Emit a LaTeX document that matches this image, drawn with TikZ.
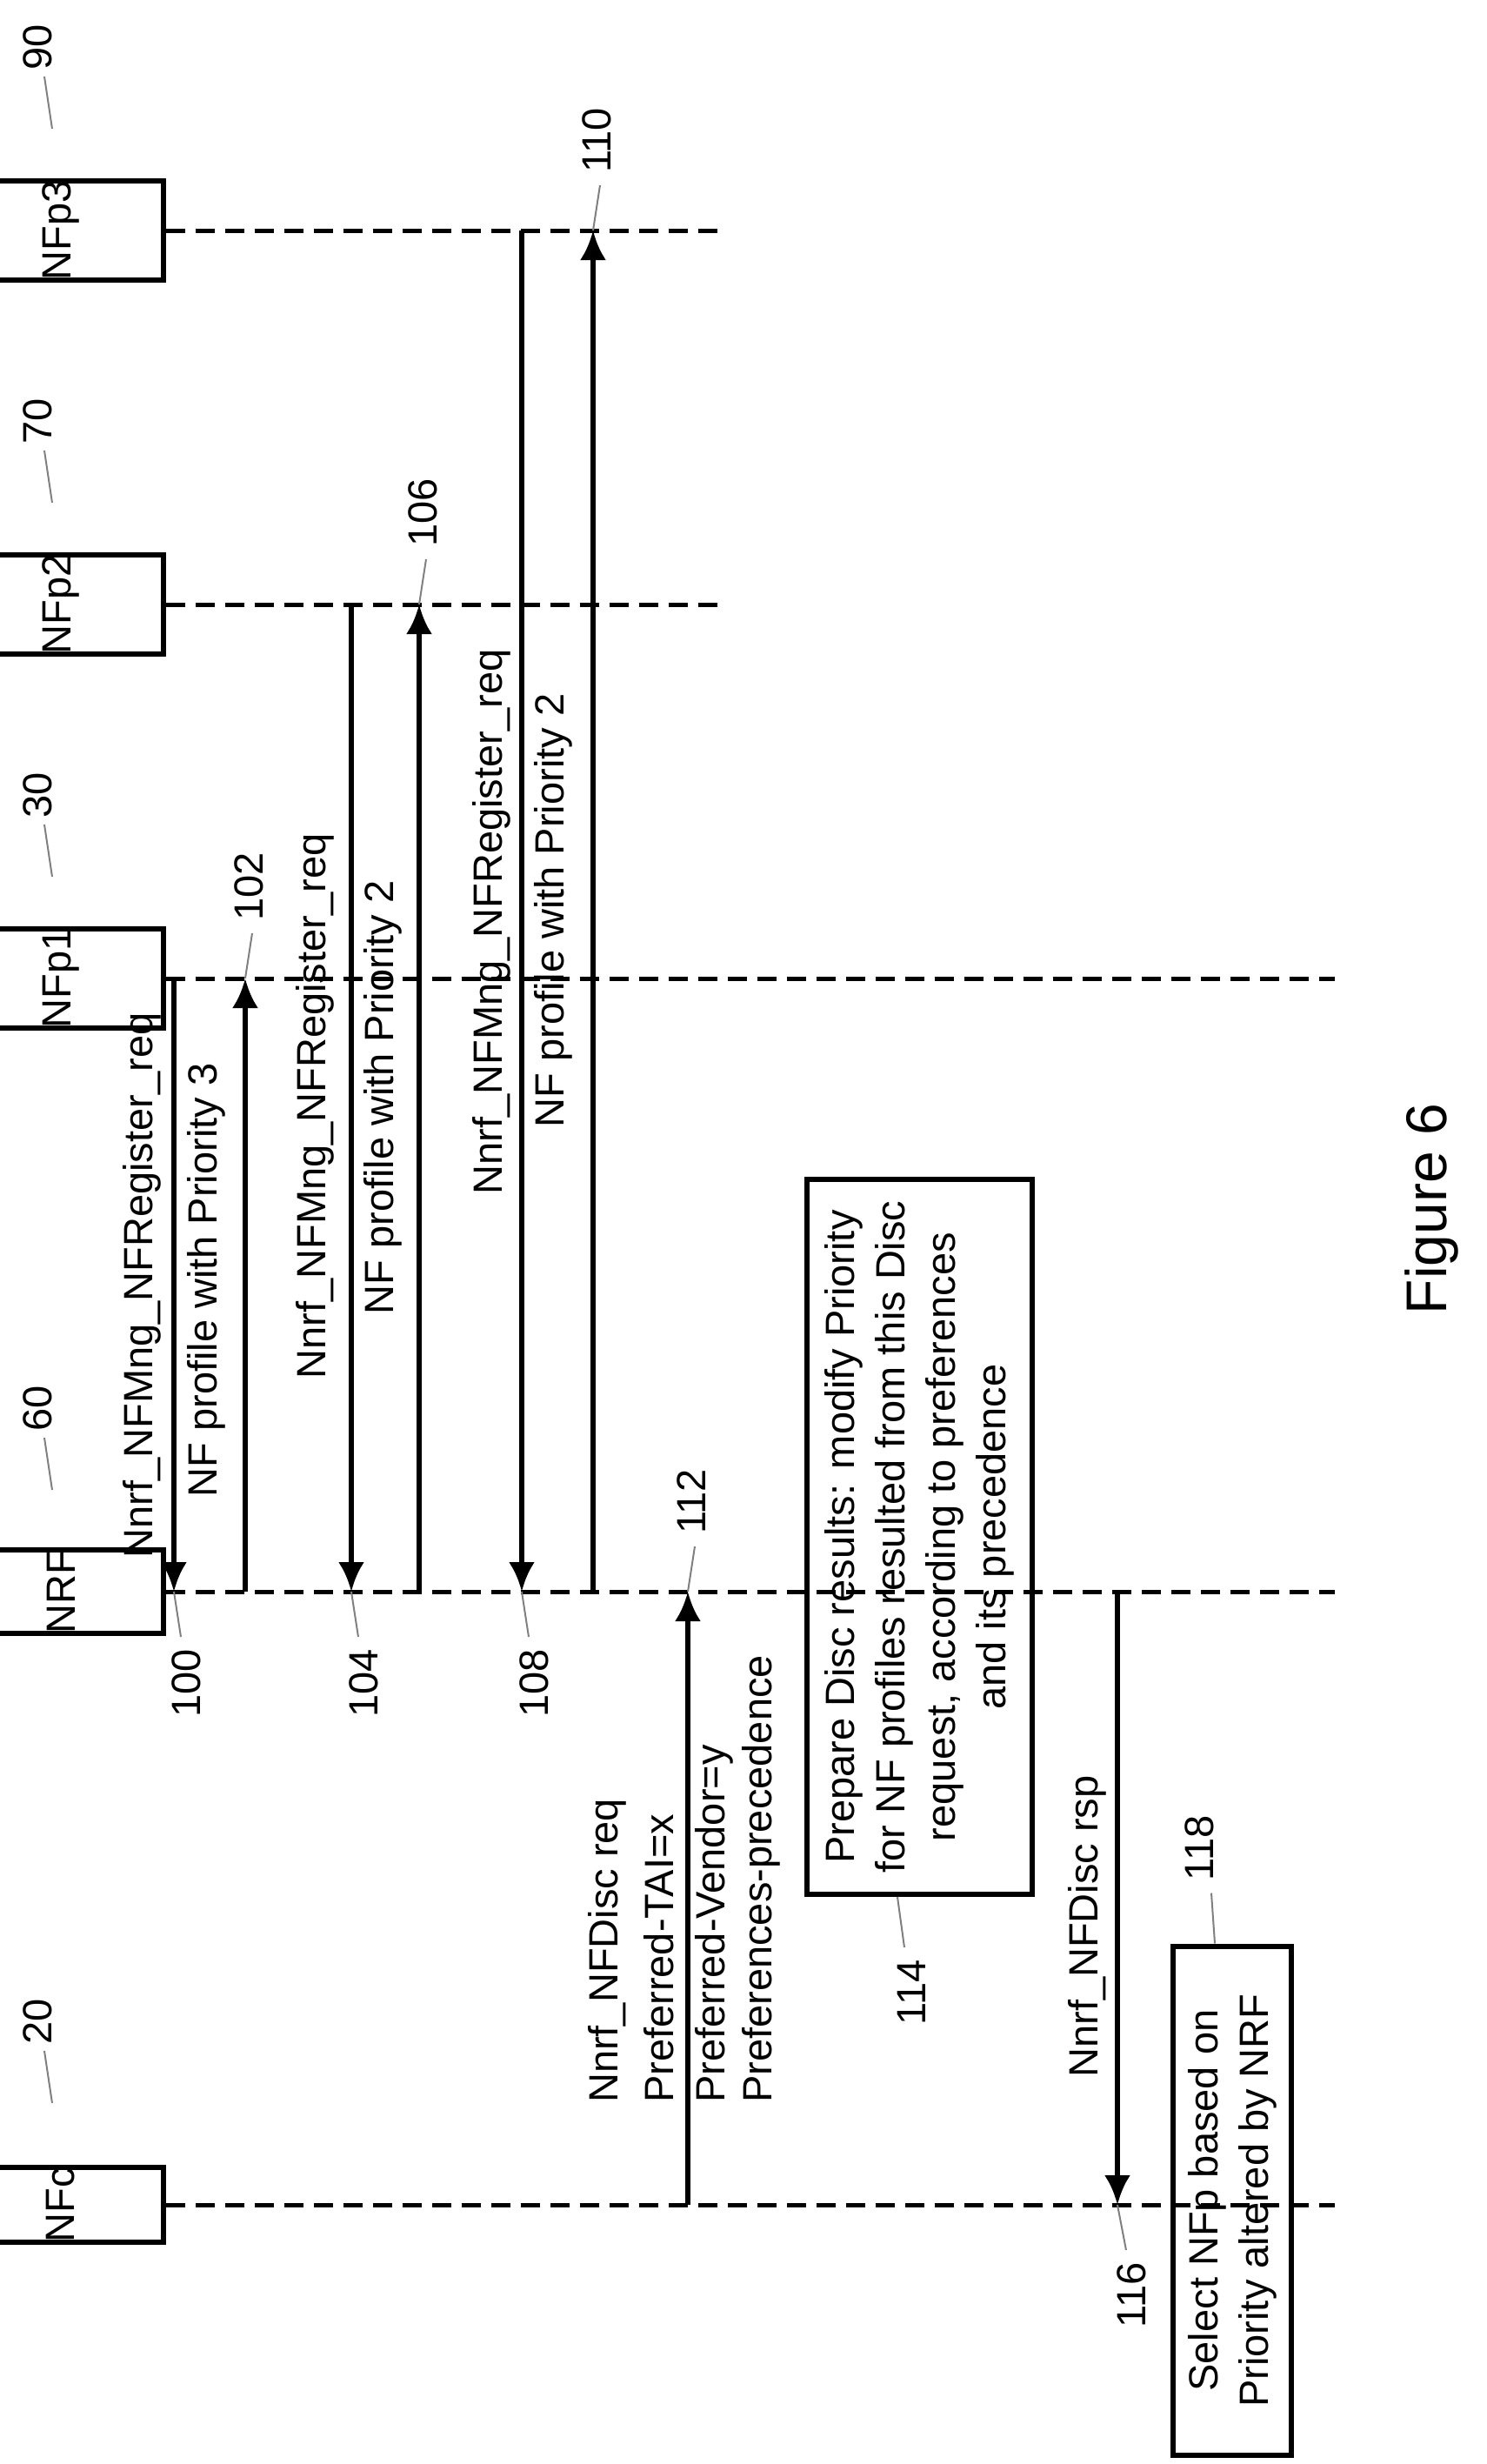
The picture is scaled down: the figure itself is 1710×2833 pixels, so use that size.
\documentclass[tikz,border=0pt]{standalone}
\usepackage{fontspec}
\setmainfont{Liberation Sans}
\usetikzlibrary{arrows.meta}
\begin{document}
\begin{tikzpicture}[x=1pt,y=-1pt,
  every node/.style={font=\fontsize{47}{58}\selectfont, inner sep=0pt},
  ent/.style={draw, line width=6pt, minimum width=86pt, minimum height=235pt, rotate=90},
  life/.style={line width=5pt, dash pattern=on 22pt off 12pt},
  msg/.style={line width=6pt, -{Latex[length=34pt,width=30pt]}},
  lead/.style={gray, line width=2pt},
  lbl/.style={rotate=90},
  pbox/.style={draw, line width=6pt, rotate=90, align=center, inner sep=0pt}]
\useasboundingbox (0,0) rectangle (1710,2833);
% entities
\node[ent] (nfp3) at (70,265) {NFp3};
\node[ent] (nfp2) at (70,695) {NFp2};
\node[ent] (nfp1) at (70,1125) {NFp1};
\node[ent] (nrf)  at (70,1830) {NRF};
\node[ent] (nfc)  at (70,2535) {NFc};
% lifelines
\coordinate (e3) at (828,265);
\coordinate (e2) at (828,695);
\coordinate (e1) at (1535,1125);
\coordinate (er) at (1535,1830);
\coordinate (ec) at (1535,2535);
\draw[life] (nfp3.south) -- (e3);
\draw[life] (nfp2.south) -- (e2);
\draw[life] (nfp1.south) -- (e1);
\draw[life] (nrf.south) -- (er);
\draw[life] (nfc.south) -- (ec);
% entity reference numerals
\foreach \n/\t/\y in {nfp3/90/265, nfp2/70/695, nfp1/30/1125, nrf/60/1830, nfc/20/2535}{
  \coordinate (\n l) at (51,\y-177);
  \draw[lead] (60,\y-117) -- (\n l);
  \node[lbl, anchor=west] (\n n) at (43,\y-184) {\t};
}
% messages
\coordinate (m100a) at (200,1125); \coordinate (m100b) at (200,1830);
\coordinate (m102a) at (282,1830); \coordinate (m102b) at (282,1125);
\coordinate (m104a) at (404,695);  \coordinate (m104b) at (404,1830);
\coordinate (m106a) at (482,1830); \coordinate (m106b) at (482,695);
\coordinate (m108a) at (600,265);  \coordinate (m108b) at (600,1830);
\coordinate (m110a) at (682,1830); \coordinate (m110b) at (682,265);
\coordinate (m112a) at (791,2535); \coordinate (m112b) at (791,1830);
\coordinate (m116a) at (1285,1830); \coordinate (m116b) at (1285,2535);
\draw[msg] (m100a) -- (m100b);
\draw[msg] (m102a) -- (m102b);
\draw[msg] (m104a) -- (m104b);
\draw[msg] (m106a) -- (m106b);
\draw[msg] (m108a) -- (m108b);
\draw[msg] (m110a) -- (m110b);
\draw[msg] (m112a) -- (m112b);
\draw[msg] (m116a) -- (m116b);
% message labels
\node[lbl] (t100a) at (163,1478) {Nnrf\_NFMng\_NFRegister\_req};
\node[lbl] (t100b) at (237,1472) {NF profile with Priority 3};
\node[lbl] (t104a) at (362,1272) {Nnrf\_NFMng\_NFRegister\_req};
\node[lbl] (t104b) at (440,1262) {NF profile with Priority 2};
\node[lbl] (t108a) at (565,1060) {Nnrf\_NFMng\_NFRegister\_req};
\node[lbl] (t108b) at (636,1047) {NF profile with Priority 2};
\node[lbl, anchor=west] (t112a) at (698,2418) {Nnrf\_NFDisc req};
\node[lbl, anchor=west] (t112b) at (758,2418) {Preferred-TAI=x};
\node[lbl, anchor=west] (t112c) at (821,2418) {Preferred-Vendor=y};
\node[lbl, anchor=west] (t112d) at (875,2418) {Preferences-precedence};
\node[lbl] (t116) at (1250,2215) {Nnrf\_NFDisc rsp};
% process boxes
\node[pbox, minimum width=822pt, minimum height=259pt] (b114) at (1057,1767)
  {Prepare Disc results: modify Priority\\for NF profiles resulted from this Disc\\request, according to preferences\\and its precedence};
\node[pbox, minimum width=585pt, minimum height=136pt] (b118) at (1417,2530)
  {Select NFp based on\\Priority altered by NRF};
% arrow reference numerals
\foreach \c/\t/\dx in {m100b/100/8, m104b/104/8, m108b/108/8, m116b/116/10}{
  \draw[lead] (\c) -- ++(\dx,52) coordinate (\c l);
  \node[lbl, anchor=east] (\c n) at ([xshift=6pt,yshift=-14pt]\c l) {\t};
}
\foreach \c/\t in {m102b/102, m106b/106, m110b/110, m112b/112}{
  \draw[lead] (\c) -- ++(8,-52) coordinate (\c l);
  \node[lbl, anchor=west] (\c n) at ([xshift=-4pt,yshift=14pt]\c l) {\t};
}
\coordinate (b114l) at ([xshift=-25pt]b114.west);
\draw[lead] (b114l) -- ++(8,58) coordinate (b114m);
\node[lbl, anchor=east] (n114) at ([xshift=8pt,yshift=-14pt]b114m) {114};
\coordinate (b118l) at ([xshift=-20pt]b118.east);
\draw[lead] (b118l) -- ++(-4,-58) coordinate (b118m);
\node[lbl, anchor=west] (n118) at ([xshift=-14pt,yshift=14pt]b118m) {118};
% figure caption
\node[lbl, font=\fontsize{66}{70}\selectfont] (fig) at (1646,1390) {Figure 6};
\end{tikzpicture}
\end{document}
